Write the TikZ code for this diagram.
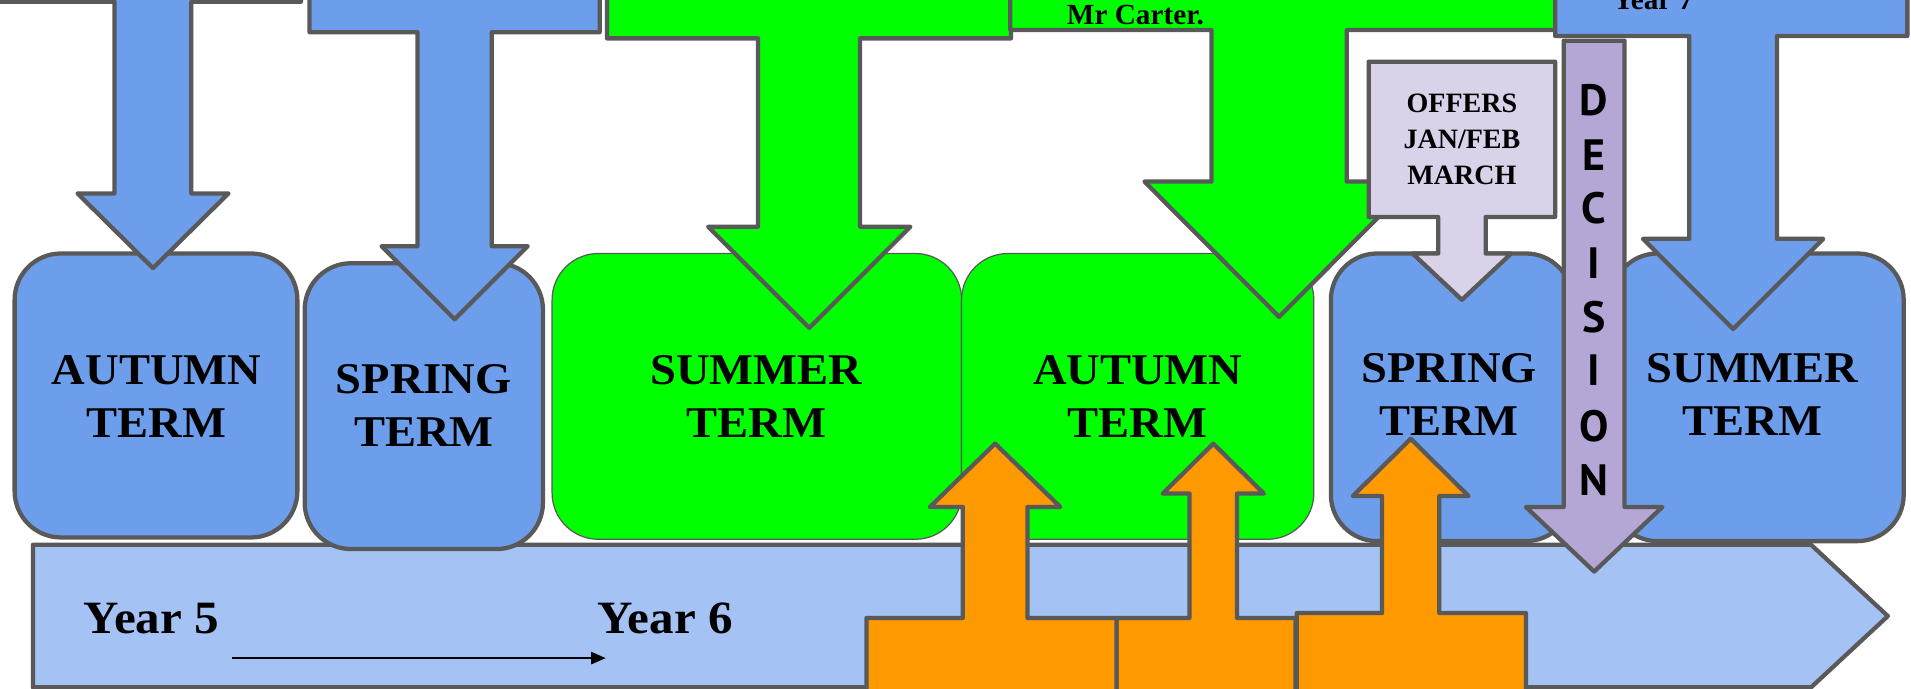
\documentclass[tikz,border=0pt]{standalone}
\usepackage{fontspec}
\setmainfont{Liberation Serif}
\newfontfamily\widefont[FakeStretch=1.06]{Liberation Serif}
\newfontfamily\decfont{PT Sans}
\usetikzlibrary{arrows.meta}
\definecolor{bluebox}{HTML}{6D9EEB}
\definecolor{lightblue}{HTML}{A4C2F4}
\definecolor{greenbox}{HTML}{00FF00}
\definecolor{edge}{HTML}{595959}
\definecolor{orangebox}{HTML}{FF9900}
\definecolor{lavender}{HTML}{D9D2E9}
\definecolor{purplebox}{HTML}{B4A7D6}
\begin{document}
\begin{tikzpicture}[x=0.5pt,y=-0.5pt,
  thickline/.style={draw=edge,line width=1.75pt,line join=round},
  termbox/.style={thickline,fill=bluebox,rounded corners=19pt},
  greenterm/.style={draw=edge,line width=0.5pt,fill=greenbox,rounded corners=19pt},
  termtext/.style={font=\widefont\bfseries\fontsize{18}{21.8}\selectfont,align=center,inner sep=0pt},
  yeartext/.style={font=\widefont\bfseries\fontsize{19}{22}\selectfont,anchor=base west,inner sep=0pt},
  smalltext/.style={font=\bfseries\fontsize{12}{14}\selectfont,anchor=base west,inner sep=0pt},
  offertext/.style={font=\bfseries\fontsize{11.5}{14.85}\selectfont,align=center,inner sep=0pt},
  dectext/.style={font=\decfont\bfseries\fontsize{18}{18}\selectfont,inner sep=0pt}]
\useasboundingbox (0,0) rectangle (1568,565);
\clip (0,0) rectangle (1568,565);

% timeline arrow
\draw[thickline,fill=lightblue] (27,447) -- (1486,447) -- (1549,505.5) -- (1486,564) -- (27,564) -- cycle;

% term boxes
\draw[termbox] (12,208) rectangle (244,441);
\node[termtext] (tA) at (128.5,325) {AUTUMN\\TERM};
\draw[termbox] (250,216) rectangle (445.5,450.5);
\node[termtext] (tB) at (347.75,333) {SPRING\\TERM};
\draw[greenterm] (453,208) rectangle (789,442.5);
\node[termtext] (tC) at (620.5,325) {SUMMER\\TERM};
\draw[greenterm] (789,208) rectangle (1078,442.5);
\node[termtext] (tD) at (933.5,325) {AUTUMN\\TERM};
\draw[termbox] (1092,208) rectangle (1290,444);
\node[termtext] (tE) at (1189,324) {SPRING\\TERM};
\draw[termbox] (1322,208) rectangle (1562,444);
\node[termtext] (tF) at (1438,324) {SUMMER\\TERM};

% top callout arrows
\draw[thickline,fill=bluebox] (-20,-60) -- (247,-60) -- (247,1.4) -- (157,1.4) -- (157,158.7) -- (187.5,158.7) -- (125.5,220) -- (63.6,158.7) -- (94,158.7) -- (94,1.4) -- (-20,1.4) -- cycle;
\draw[thickline,fill=bluebox] (254,-60) -- (492,-60) -- (492,26.5) -- (403.5,26.5) -- (403.5,202) -- (433,202) -- (373,262) -- (313,202) -- (342.6,202) -- (342.6,26.5) -- (254,26.5) -- cycle;
\draw[thickline,fill=greenbox] (498,-60) -- (829.5,-60) -- (829.5,31.5) -- (705.7,31.5) -- (705.7,186) -- (747,186) -- (664,269) -- (581,186) -- (622,186) -- (622,31.5) -- (498,31.5) -- cycle;
\draw[thickline,fill=greenbox] (829,-60) -- (1300,-60) -- (1300,24.6) -- (1105,24.6) -- (1105,149) -- (1160,149) -- (1049.5,260) -- (939,149) -- (994,149) -- (994,24.6) -- (829,24.6) -- cycle;
\node[smalltext] (carter) at (875,20.5) {Mr Carter.};

% offers callout
\draw[thickline,fill=lavender] (1123,50.6) -- (1276,50.6) -- (1276,178) -- (1219,178) -- (1219,208) -- (1240,208) -- (1199.5,246) -- (1159,208) -- (1180,208) -- (1180,178) -- (1123,178) -- cycle;
\node[offertext] (offers) at (1199.5,114.5) {OFFERS\\JAN/FEB\\MARCH};

% year 7 callout
\draw[thickline,fill=bluebox] (1276,-60) -- (1565,-60) -- (1565,29.5) -- (1458,29.5) -- (1458,196) -- (1496,196) -- (1422,270) -- (1348,196) -- (1386,196) -- (1386,29.5) -- (1276,29.5) -- cycle;
\node[smalltext] (y7) at (1323,7.7) {Year 7};

% decision arrow
\draw[thickline,fill=purplebox] (1283,33.4) -- (1333,33.4) -- (1333,416) -- (1364,416) -- (1308,469) -- (1252,416) -- (1283,416) -- cycle;
\foreach \l/\yy [count=\i] in {D/82,E/127,C/171,I/216,S/260,I/304,O/350,N/394}
  \node[dectext] (dec\i) at (1308,\yy) {\l};

% orange up arrows
\draw[thickline,fill=orangebox] (916,640) -- (916,507) -- (976,507) -- (976,405) -- (954,405) -- (995.5,364) -- (1037,405) -- (1015,405) -- (1015,507) -- (1063,507) -- (1063,640) -- cycle;
\draw[thickline,fill=orangebox] (711,640) -- (711,507) -- (790,507) -- (790,416) -- (763,416) -- (816.5,364) -- (870,416) -- (843,416) -- (843,507) -- (916,507) -- (916,640) -- cycle;
\draw[thickline,fill=orangebox] (1064,640) -- (1064,503) -- (1134,503) -- (1134,407) -- (1110,407) -- (1157.5,360) -- (1205,407) -- (1181,407) -- (1181,503) -- (1252,503) -- (1252,640) -- cycle;

% year labels
\node[yeartext] (y5) at (68.5,520) {Year 5};
\node[yeartext] (y6) at (490,520) {Year 6};
\coordinate (ya) at (190,540);
\coordinate (yb) at (497,540);
\draw[-{Triangle[length=6pt,width=5pt]},line width=0.8pt] (ya) -- (yb);
\end{tikzpicture}
\end{document}
